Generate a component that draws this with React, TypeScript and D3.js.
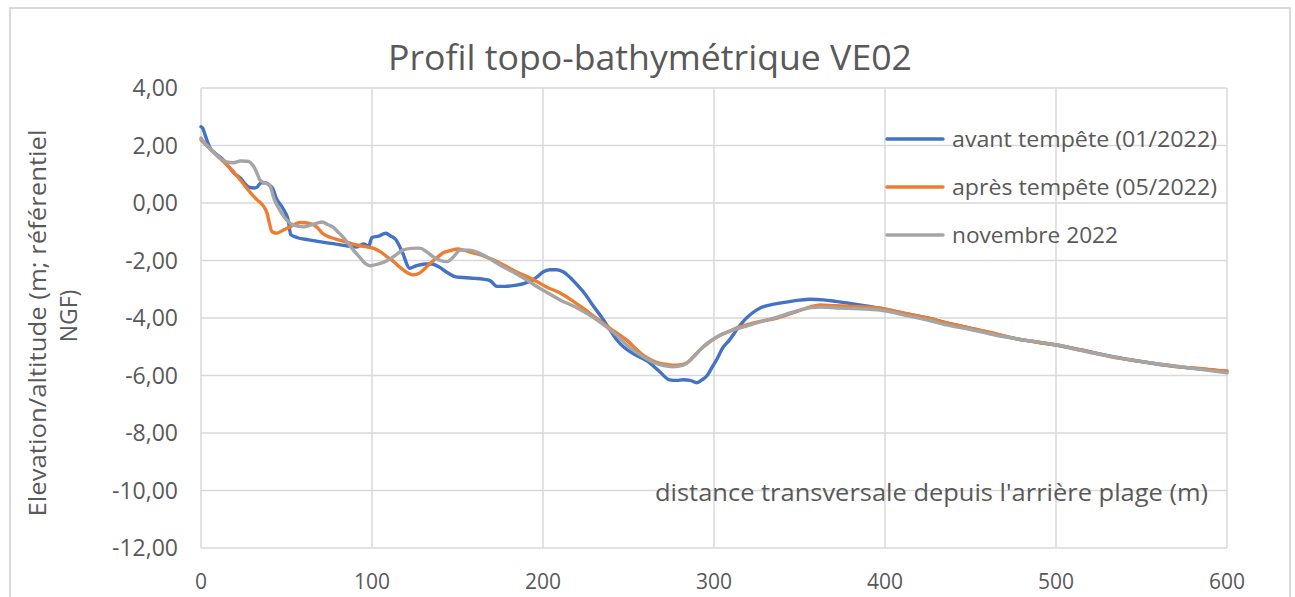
import React from 'react';
import * as d3 from 'd3';

// distance (m) / elevation (m NGF)
const avantTempete: [number, number][] = [
  [0, 2.65], [1, 2.6], [2.5, 2.35], [5, 1.95], [9, 1.7], [13, 1.5], [17, 1.2], [20, 1.0],
  [23, 0.87], [26, 0.65], [28, 0.55], [31, 0.52], [33, 0.56], [35, 0.7], [38, 0.7], [40, 0.62],
  [42, 0.5], [44, 0.17], [47, -0.1], [49, -0.3], [51, -0.6], [52.5, -1.1], [56, -1.2], [63, -1.28],
  [71, -1.36], [80, -1.44], [91, -1.53], [95, -1.42], [98, -1.5], [100, -1.2], [104, -1.15],
  [108, -1.05], [111, -1.15], [114, -1.28], [118, -1.75], [122, -2.27], [126, -2.18], [131, -2.12],
  [135, -2.12], [139, -2.22], [144, -2.42], [149, -2.57], [155, -2.6], [160, -2.62], [165, -2.65],
  [169, -2.7], [173, -2.9], [178, -2.9], [184, -2.86], [189, -2.8], [194, -2.68], [197, -2.55],
  [200, -2.4], [204, -2.32], [208, -2.32], [212, -2.4], [216, -2.6], [220, -2.85], [225, -3.2],
  [229, -3.55], [234, -3.95], [239, -4.4], [243, -4.75], [247, -5.0], [254, -5.28], [261, -5.5],
  [268, -5.85], [274, -6.15], [278, -6.17], [282, -6.15], [286, -6.17], [290, -6.25], [293, -6.15],
  [296, -6.0], [299, -5.7], [302, -5.4], [305, -5.05], [309, -4.77], [314, -4.35], [319, -4.0],
  [323, -3.8], [327, -3.65], [335, -3.52], [343, -3.44], [350, -3.38], [356, -3.35], [364, -3.37],
  [371, -3.42], [378, -3.48], [387, -3.56], [397, -3.66], [410, -3.82], [425, -4.0], [436, -4.17],
  [455, -4.42], [475, -4.7], [500, -4.94], [520, -5.18], [545, -5.47], [572, -5.7], [600, -5.85],
];

const apresTempete: [number, number][] = [
  [0, 2.2], [5, 1.9], [12, 1.5], [18, 1.15], [23, 0.8], [27, 0.5], [30, 0.28], [33, 0.1],
  [36, -0.07], [38.6, -0.35], [40, -0.7], [41.5, -1.0], [44, -1.05], [48, -0.95], [52, -0.83],
  [58, -0.68], [64, -0.72], [68, -0.85], [71, -1.05], [76, -1.2], [81, -1.29], [86, -1.38],
  [91, -1.46], [96, -1.52], [100.6, -1.57], [105, -1.7], [109, -1.88], [113, -2.05], [116, -2.22],
  [120, -2.4], [124, -2.5], [128, -2.43], [131, -2.28], [134, -2.1], [138, -1.9], [141.5, -1.74],
  [146, -1.65], [150, -1.6], [154, -1.65], [157, -1.7], [162, -1.78], [167, -1.88], [172, -2.0],
  [177, -2.16], [184, -2.38], [191, -2.57], [196, -2.72], [202, -2.92], [210, -3.13], [216, -3.35],
  [222, -3.6], [230, -3.95], [239, -4.35], [244, -4.55], [249, -4.77], [254, -5.05], [258.5, -5.29],
  [263, -5.45], [268, -5.57], [273, -5.62], [278, -5.64], [284, -5.57], [288, -5.35], [292, -5.1],
  [296, -4.9], [299, -4.77], [303, -4.62], [308, -4.49], [313, -4.35], [319, -4.24], [327, -4.12],
  [337, -4.0], [346, -3.82], [356, -3.62], [362, -3.55], [370, -3.57], [380, -3.6], [390, -3.62],
  [397, -3.66], [405, -3.75], [415, -3.88], [425, -4.0], [436, -4.17], [446, -4.3], [455, -4.42],
  [465, -4.55], [475, -4.7], [485, -4.8], [493, -4.88], [500.6, -4.94], [510, -5.06], [520, -5.18],
  [533, -5.36], [545, -5.47], [557, -5.58], [572, -5.7], [585, -5.76], [594, -5.82], [600, -5.85],
];

const novembre2022: [number, number][] = [
  [0, 2.26], [2, 2.1], [5, 1.91], [10, 1.62], [15, 1.43], [19, 1.4], [23, 1.46], [27, 1.45],
  [29, 1.4], [31.5, 1.2], [33, 1.0], [34.5, 0.8], [37, 0.7], [40, 0.63], [43, 0.1], [46, -0.24],
  [50, -0.59], [54, -0.77], [60, -0.83], [64, -0.77], [68, -0.7], [71, -0.66], [74, -0.75],
  [77, -0.83], [80, -1.0], [83, -1.18], [86, -1.4], [89, -1.63], [93, -1.9], [96, -2.1], [99, -2.18],
  [104, -2.12], [109, -2.0], [113, -1.85], [118, -1.64], [123, -1.58], [128, -1.57], [132, -1.7],
  [136, -1.88], [140, -2.0], [144, -2.04], [148, -1.85], [151.5, -1.64], [157, -1.64], [161, -1.7],
  [165, -1.81], [170, -1.98], [176.6, -2.22], [184, -2.45], [190.6, -2.68], [195, -2.85], [200, -3.03],
  [210, -3.37], [220, -3.65], [230, -4.0], [239, -4.4], [244, -4.65], [249, -4.94], [256, -5.25],
  [264, -5.53], [270, -5.65], [276, -5.7], [282, -5.64], [288, -5.35], [293.6, -5.0], [298, -4.8],
  [303.5, -4.6], [311, -4.42], [319, -4.28], [328, -4.12], [337, -3.97], [346, -3.8], [356, -3.65],
  [362, -3.62], [372, -3.65], [385, -3.68], [397, -3.72], [410, -3.88], [425, -4.07], [436, -4.24],
  [450, -4.4], [465, -4.6], [480, -4.75], [500.6, -4.94], [520, -5.2], [540, -5.42], [560, -5.6],
  [580, -5.75], [600, -5.91],
];

const seriesNames = ['avant tempête (01/2022)', 'après tempête (05/2022)', 'novembre 2022'];
const seriesColors = ['#4472C4', '#ED7D31', '#A5A5A5'];
const xTicks = [0, 100, 200, 300, 400, 500, 600];
const yTicks = [4, 2, 0, -2, -4, -6, -8, -10, -12];

const W = 1295;
const H = 597;
const FONT = "'Open Sans', 'Noto Sans', sans-serif";
const TEXT = '#595959';
const GRID = '#d9d9d9';

const locale = d3.formatLocale({ decimal: ',', thousands: ' ', grouping: [3], currency: ['', '€'], minus: '-' });
const fmt = locale.format('.2f');

const App: React.FC = () => {
  const x = d3.scaleLinear().domain([0, 600]).range([201, 1227]);
  const y = d3.scaleLinear().domain([-12, 4]).range([548, 88]);
  const line = d3.line<[number, number]>().x(d => x(d[0])).y(d => y(d[1])).curve(d3.curveMonotoneX);
  const allSeries = [avantTempete, apresTempete, novembre2022];

  return (
    <div style={{ position: 'fixed', left: 0, top: 0 }}>
      <svg width={W} height={H} style={{ display: 'block', background: '#fff' }}>
        <rect x={10} y={8} width={1280} height={620} fill="#fff" stroke={GRID} strokeWidth={2} />
        <text x={650} y={70} textAnchor="middle" fontFamily={FONT} fontSize={34} fill={TEXT}
          textLength={524} lengthAdjust="spacingAndGlyphs">
          Profil topo-bathymétrique VE02
        </text>

        {yTicks.map(t => (
          <line key={'gy' + t} x1={x(0)} x2={x(600)} y1={y(t)} y2={y(t)} stroke={GRID} strokeWidth={1.5} />
        ))}
        {xTicks.map(t => (
          <line key={'gx' + t} x1={x(t)} x2={x(t)} y1={y(4)} y2={y(-12)} stroke={GRID} strokeWidth={1.5} />
        ))}

        {yTicks.map(t => (
          <text key={'ty' + t} x={178} y={y(t)} dy="0.36em" textAnchor="end" fontFamily={FONT} fontSize={23} fill={TEXT}>
            {fmt(t)}
          </text>
        ))}
        {xTicks.map(t => (
          <text key={'tx' + t} x={x(t)} y={589} textAnchor="middle" fontFamily={FONT} fontSize={21} fill={TEXT}>
            {t}
          </text>
        ))}

        <text transform="translate(46,323) rotate(-90)" textAnchor="middle" fontFamily={FONT} fontSize={23} fill={TEXT}
          textLength={387} lengthAdjust="spacingAndGlyphs">
          Elevation/altitude (m; référentiel
        </text>
        <text transform="translate(77,316) rotate(-90)" textAnchor="middle" fontFamily={FONT} fontSize={23} fill={TEXT}>
          NGF)
        </text>

        <text x={1208} y={501} textAnchor="end" fontFamily={FONT} fontSize={24} fill={TEXT}
          textLength={553} lengthAdjust="spacingAndGlyphs">
          distance transversale depuis l'arrière plage (m)
        </text>

        {allSeries.map((s, i) => (
          <path key={'s' + i} d={line(s) || ''} fill="none" stroke={seriesColors[i]} strokeWidth={3.4} strokeLinejoin="round" strokeLinecap="round" />
        ))}

        {seriesNames.map((n, i) => (
          <g key={'lg' + i} transform={`translate(0,${139 + i * 48})`}>
            <line x1={887} x2={943} y1={0} y2={0} stroke={seriesColors[i]} strokeWidth={3.4} strokeLinecap="round" />
            <text x={952} y={0} dy="0.36em" fontFamily={FONT} fontSize={22} fill={TEXT}
              textLength={i === 2 ? 166 : 265} lengthAdjust="spacingAndGlyphs">
              {n}
            </text>
          </g>
        ))}
      </svg>
    </div>
  );
};

export default App;
